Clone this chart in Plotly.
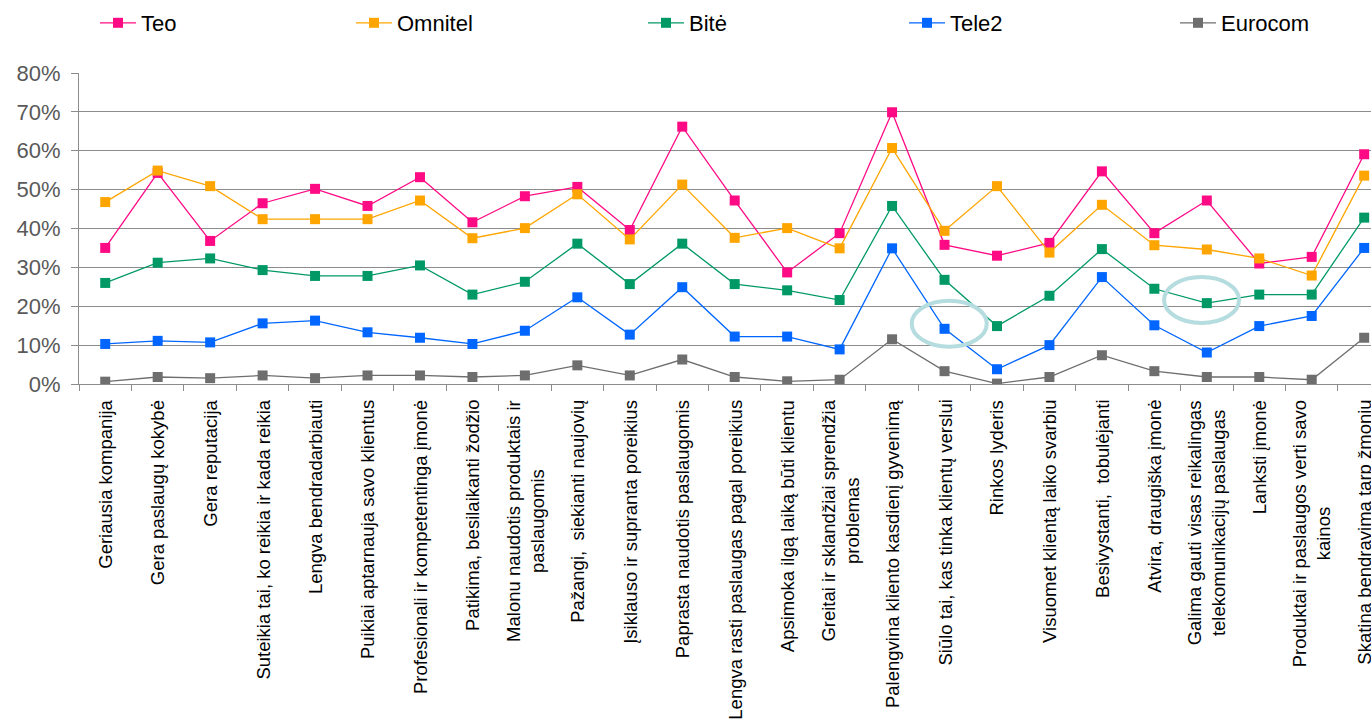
import plotly.graph_objects as go

categories = [
    "Geriausia kompanija",
    "Gera paslaugų kokybė",
    "Gera reputacija",
    "Suteikia tai, ko reikia ir kada reikia",
    "Lengva bendradarbiauti",
    "Puikiai aptarnauja savo klientus",
    "Profesionali ir kompetentinga įmonė",
    "Patikima, besilaikanti žodžio",
    "Malonu naudotis produktais ir<br>paslaugomis",
    "Pažangi,  siekianti naujovių",
    "Įsiklauso ir supranta poreikius",
    "Paprasta naudotis paslaugomis",
    "Lengva rasti paslaugas pagal poreikius",
    "Apsimoka ilgą laiką būti klientu",
    "Greitai ir sklandžiai sprendžia<br>problemas",
    "Palengvina kliento kasdienį gyvenimą",
    "Siūlo tai, kas tinka klientų verslui",
    "Rinkos lyderis",
    "Visuomet klientą laiko svarbiu",
    "Besivystanti,  tobulėjanti",
    "Atvira, draugiška įmonė",
    "Galima gauti visas reikalingas<br>telekomunikacijų paslaugas",
    "Lanksti įmonė",
    "Produktai ir paslaugos verti savo<br>kainos",
    "Skatina bendravimą tarp žmonių",
]

teo = [35.0, 54.3, 36.8, 46.5, 50.2, 45.8, 53.2, 41.6, 48.3, 50.7, 39.6, 66.2, 47.2,
       28.7, 38.8, 69.9, 35.8, 33.0, 36.3, 54.7, 38.8, 47.2, 31.0, 32.7, 59.1]
omnitel = [46.8, 54.9, 50.9, 42.4, 42.4, 42.4, 47.2, 37.5, 40.1, 48.8, 37.2, 51.3, 37.6,
           40.1, 34.9, 60.7, 39.4, 50.9, 33.8, 46.1, 35.7, 34.6, 32.3, 27.9, 53.6]
bite = [26.0, 31.2, 32.3, 29.3, 27.8, 27.8, 30.5, 23.0, 26.3, 36.1, 25.7, 36.1, 25.7,
        24.1, 21.6, 45.8, 26.8, 14.9, 22.7, 34.7, 24.5, 20.8, 23.0, 23.0, 42.8]
tele2 = [10.3, 11.1, 10.7, 15.6, 16.3, 13.3, 11.9, 10.3, 13.7, 22.3, 12.7, 24.9, 12.2,
         12.2, 8.9, 34.9, 14.2, 3.8, 10.0, 27.5, 15.1, 8.1, 14.9, 17.5, 35.0]
eurocom = [0.6, 1.8, 1.5, 2.2, 1.5, 2.2, 2.2, 1.8, 2.2, 4.8, 2.2, 6.3, 1.8,
           0.7, 1.1, 11.5, 3.3, 0.1, 1.8, 7.4, 3.3, 1.8, 1.8, 1.1, 11.9]

series_names = ["Teo", "Omnitel", "Bitė", "Tele2", "Eurocom"]
series_values = [teo, omnitel, bite, tele2, eurocom]
colors = ["#FF0A85", "#FFA500", "#009966", "#0066FF", "#6E6E6E"]
legend_x_px = [95, 351, 643, 904, 1175]

FONT = "Liberation Sans, Arial, sans-serif"
W, H = 1371, 722

fig = go.Figure()
for i, (name, vals, col) in enumerate(zip(series_names, series_values, colors)):
    leg = "legend" if i == 0 else f"legend{i+1}"
    fig.add_trace(go.Scatter(
        x=categories, y=vals, name=name, mode="lines+markers",
        line=dict(color=col, width=1.3),
        marker=dict(symbol="square", size=10, color=col, line=dict(width=0)),
        legend=leg, showlegend=True,
    ))

# legends, one per series, placed along the top
for i, px in enumerate(legend_x_px):
    key = "legend" if i == 0 else f"legend{i+1}"
    fig.update_layout({key: dict(
        x=px / W, y=1 - 23 / H, xref="container", yref="container",
        xanchor="left", yanchor="middle", orientation="h",
        bgcolor="rgba(0,0,0,0)", borderwidth=0, itemwidth=36,
        font=dict(family=FONT, size=22, color="#000000"),
    )})

# category labels, rotated and centred
annotations = []
for c in categories:
    annotations.append(dict(
        x=c, y=0, xref="x", yref="y", text=c, showarrow=False,
        textangle=-90, xanchor="center", yanchor="top", align="center",
        yshift=-14, font=dict(family=FONT, size=18.5, color="#000000"),
    ))

# highlight ellipses around two points
shapes = []
for idx, vals, dx, dy in [(16, tele2, 0.09, 1.3), (21, bite, -0.1, 0.8)]:
    cx = idx + dx
    cy = vals[idx] + dy
    shapes.append(dict(
        type="circle", xref="x", yref="y",
        x0=cx - 0.715, x1=cx + 0.715, y0=cy - 5.9, y1=cy + 5.9,
        line=dict(color="#B5DCDF", width=4),
    ))

fig.update_layout(
    width=W, height=H, showlegend=True,
    margin=dict(l=79, r=0, t=73, b=338),
    paper_bgcolor="white", plot_bgcolor="white",
    annotations=annotations, shapes=shapes,
    xaxis=dict(
        type="category", range=[-0.5, 24.13], showticklabels=False,
        tickson="boundaries", ticks="outside", ticklen=6, tickcolor="#8C8C8C",
        showgrid=False, showline=True, linecolor="#8C8C8C", linewidth=1,
        zeroline=False,
    ),
    yaxis=dict(
        range=[0, 80], dtick=10, ticksuffix="%", ticks="outside", ticklen=7,
        tickcolor="#8C8C8C", showgrid=True, gridcolor="#8C8C8C", gridwidth=1,
        showline=True, linecolor="#8C8C8C", linewidth=1, zeroline=False,
        tickfont=dict(family=FONT, size=22, color="#595959"),
        ticklabelstandoff=6,
    ),
)

fig.write_html("out.html")
